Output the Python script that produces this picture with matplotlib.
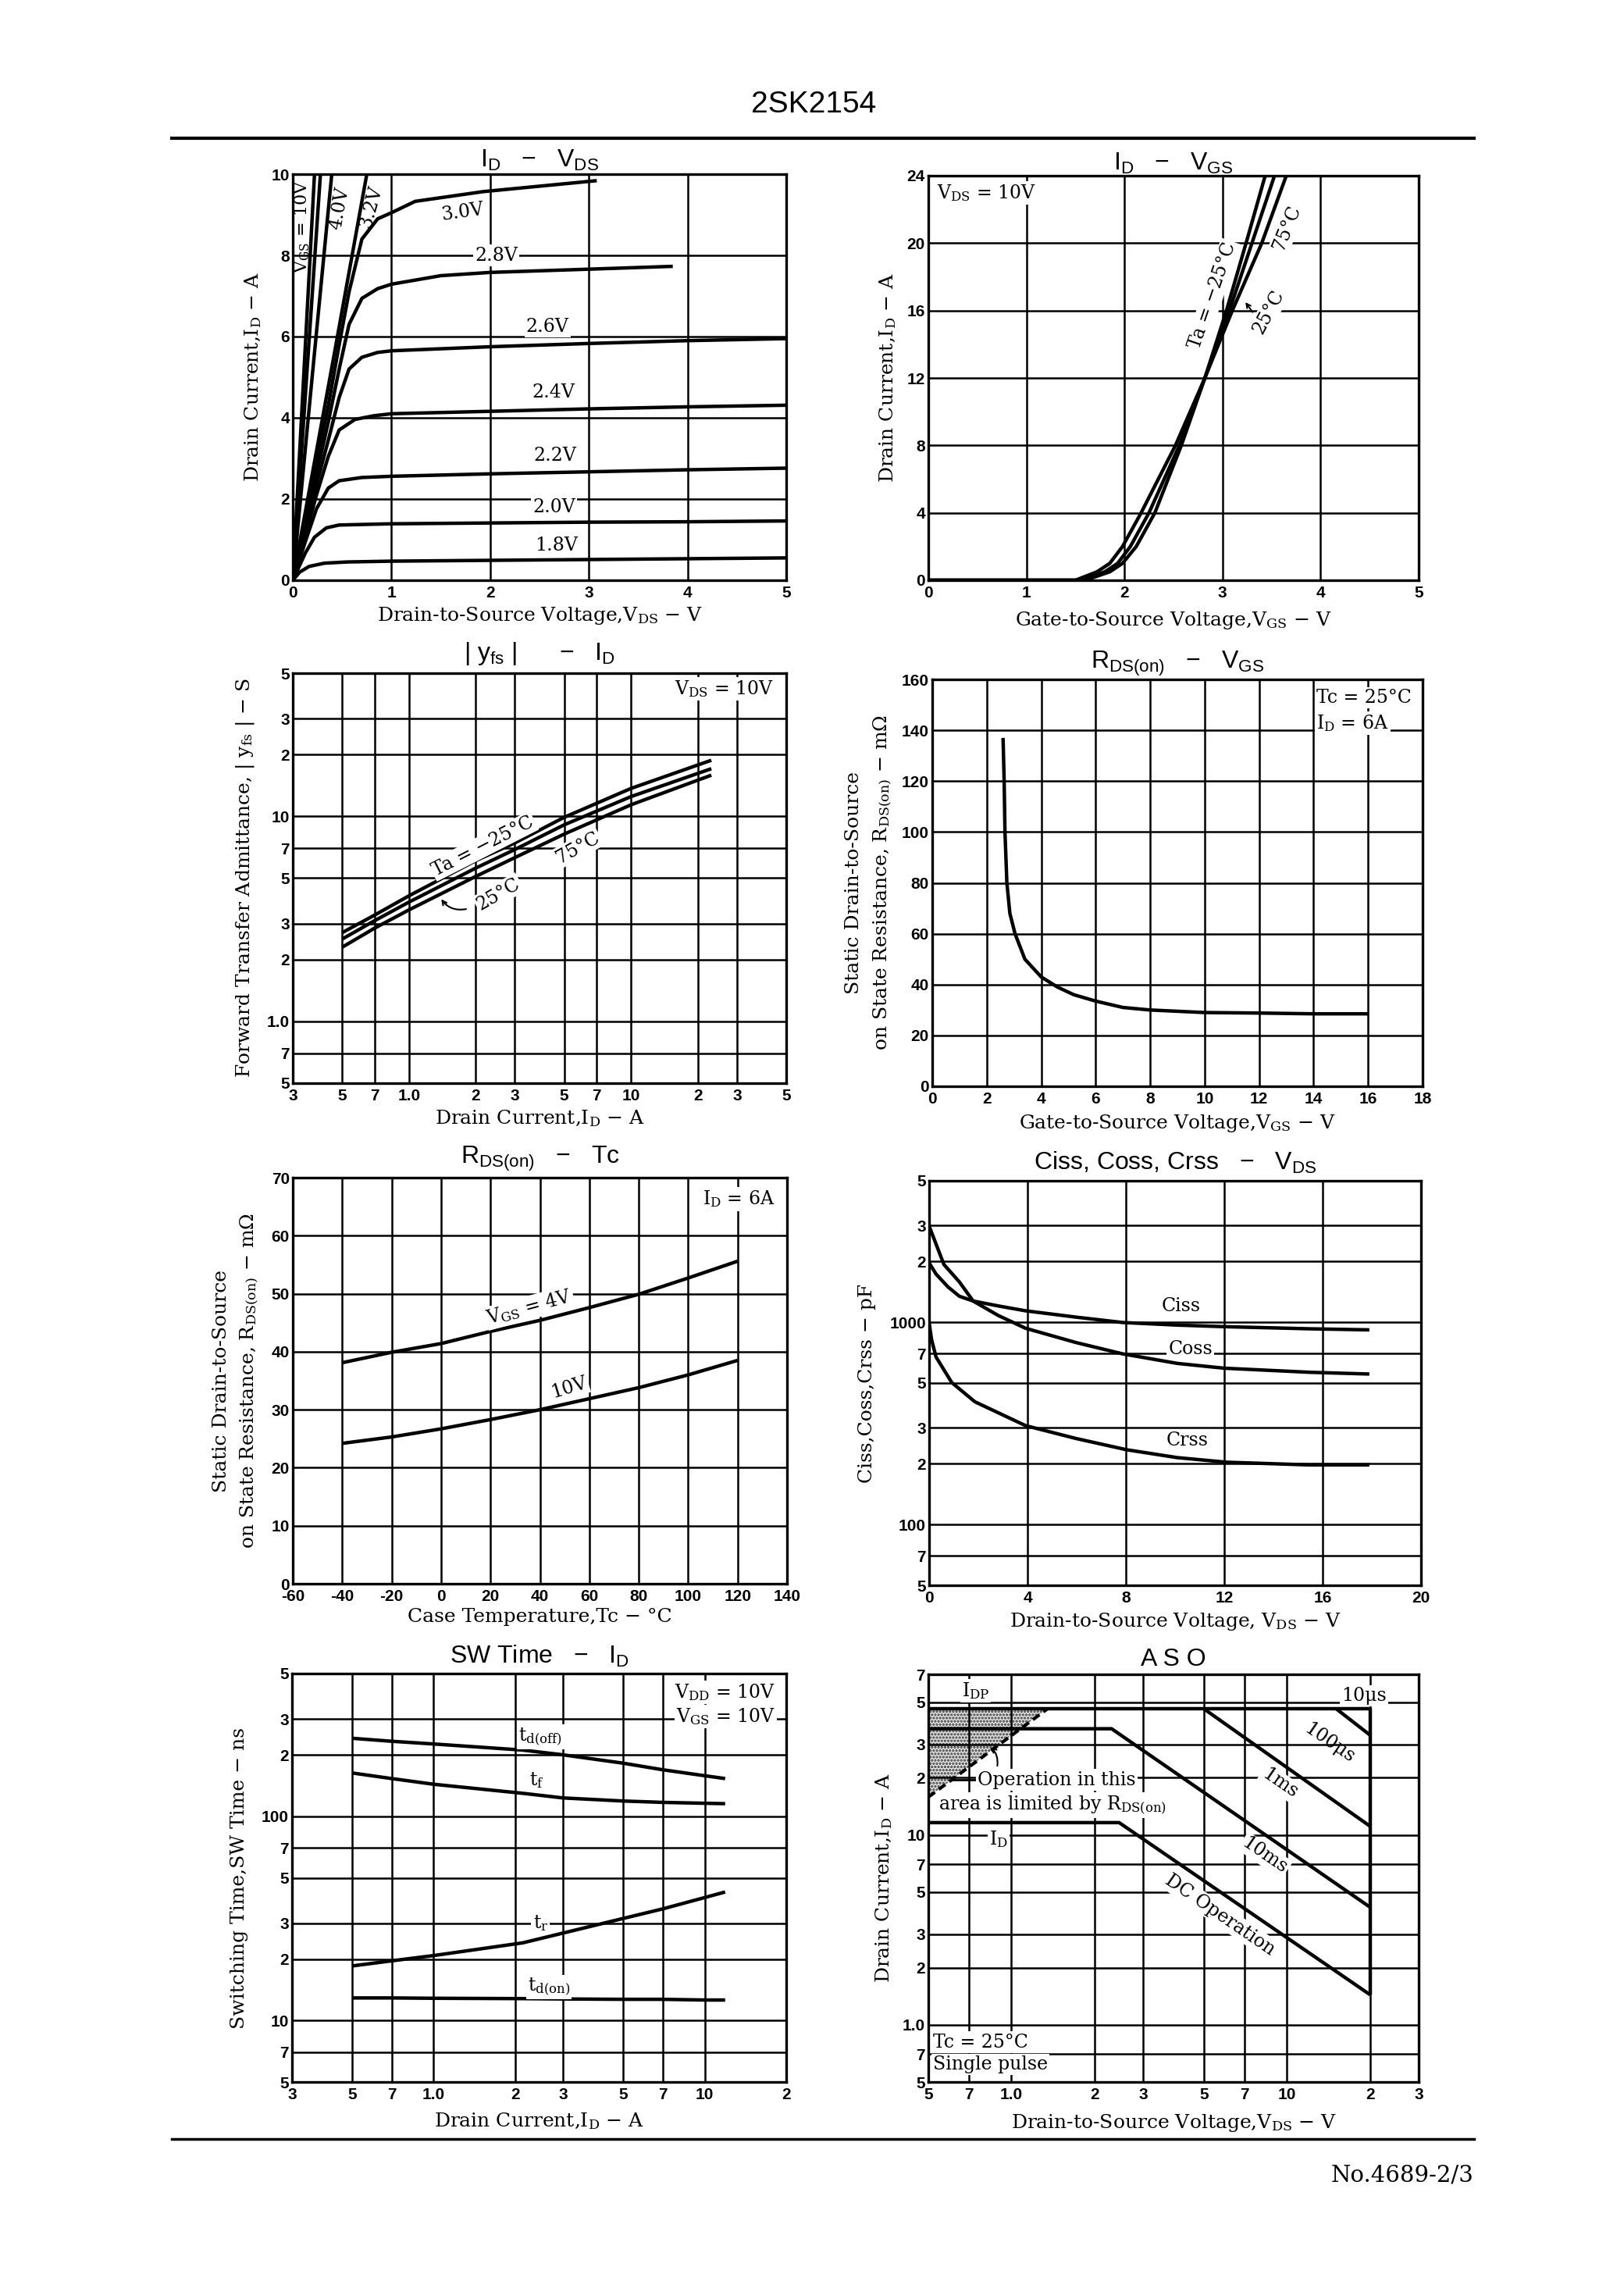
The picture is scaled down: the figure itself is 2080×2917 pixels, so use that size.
import matplotlib
matplotlib.use("Agg")
import matplotlib.pyplot as plt
from matplotlib.lines import Line2D
import numpy as np

W, H = 2080, 2917
SANS = ['Liberation Sans', 'DejaVu Sans']
SERIF = ['DejaVu Serif']

plt.rcParams['mathtext.default'] = 'regular'
plt.rcParams['font.family'] = SERIF
plt.rcParams['hatch.linewidth'] = 1.6

# ---------------- data ----------------
# I_D - V_DS (one curve per V_GS step)
vds_10v = [0, 0.22]
id_10v = [0, 10]
vds_6v = [0, 0.28]
id_6v = [0, 10]
vds_4v = [0, 0.2, 0.395]
id_4v = [0, 5.1, 10]
vds_3v2 = [0, 0.4, 0.75]
id_3v2 = [0, 5.3, 10]
vds_3v0 = [0, 0.127, 0.24, 0.36, 0.47, 0.57, 0.7, 0.86, 1, 1.24, 1.93, 3.08]
id_3v0 = [0, 1.5, 2.9, 4.3, 5.8, 7.1, 8.4, 8.9, 9.05, 9.33, 9.57, 9.84]
vds_2v8 = [0, 0.127, 0.24, 0.36, 0.47, 0.57, 0.7, 0.86, 1, 1.5, 2, 3, 3.85]
id_2v8 = [0, 1.35, 2.6, 3.9, 5.2, 6.3, 6.94, 7.18, 7.29, 7.5, 7.58, 7.66, 7.73]
vds_2v6 = [0, 0.127, 0.24, 0.36, 0.47, 0.57, 0.7, 0.86, 1, 1.5, 2, 3, 4, 5]
id_2v6 = [0, 1.2, 2.35, 3.45, 4.5, 5.2, 5.49, 5.61, 5.65, 5.7, 5.75, 5.83, 5.9, 5.95]
vds_2v4 = [0, 0.127, 0.24, 0.36, 0.47, 0.63, 0.82, 1, 2, 3, 4, 5]
id_2v4 = [0, 1.1, 2.1, 3.05, 3.7, 3.96, 4.05, 4.1, 4.16, 4.22, 4.27, 4.31]
vds_2v2 = [0, 0.127, 0.24, 0.36, 0.47, 0.7, 1, 2, 3, 4, 5]
id_2v2 = [0, 0.95, 1.76, 2.27, 2.45, 2.53, 2.56, 2.62, 2.67, 2.72, 2.76]
vds_2v0 = [0, 0.127, 0.22, 0.34, 0.47, 1, 2, 3, 4, 5]
id_2v0 = [0, 0.67, 1.06, 1.29, 1.36, 1.39, 1.41, 1.43, 1.44, 1.46]
vds_1v8 = [0, 0.07, 0.165, 0.32, 0.55, 1, 2, 3, 4, 5]
id_1v8 = [0, 0.2, 0.34, 0.42, 0.45, 0.47, 0.49, 0.51, 0.53, 0.55]

# I_D - V_GS (V_GS read at fixed I_D levels)
id_levels = [0, 0, 0.5, 1, 2, 4, 8, 12, 16, 20, 24]
vgs_m25 = [0, 1.6, 1.85, 1.98, 2.12, 2.31, 2.58, 2.82, 3.04, 3.24, 3.435]
vgs_25 = [0, 1.55, 1.8, 1.93, 2.06, 2.25, 2.56, 2.82, 3.07, 3.30, 3.53]
vgs_75 = [0, 1.5, 1.72, 1.85, 1.98, 2.17, 2.52, 2.82, 3.10, 3.40, 3.65]

# |yfs| - I_D
id_yfs = [0.5, 0.7, 1, 2, 3, 5, 10, 23]
yfs_m25 = [2.71, 3.3, 4.1, 6.09, 7.43, 9.9, 13.7, 18.8]
yfs_25 = [2.52, 3.1, 3.82, 5.6, 6.9, 9.1, 12.5, 17.1]
yfs_75 = [2.3, 2.85, 3.5, 5.1, 6.3, 8.2, 11.4, 15.9]

# RDS(on) - VGS
vgs_r = [2.6, 2.64, 2.67, 2.74, 2.85, 3.04, 3.4, 4.0, 4.6, 5.2, 6.0, 7.0, 8.0, 10, 12, 14, 16]
r_vgs = [137, 120, 100, 80, 68, 60, 50, 43, 39, 36, 33.5, 31, 30, 29, 28.8, 28.5, 28.5]

# RDS(on) - Tc
tc = [-40, -20, 0, 20, 40, 60, 80, 100, 120]
r_4v = [38.1, 39.9, 41.4, 43.5, 45.4, 47.6, 49.9, 52.7, 55.6]
r_10v = [24.2, 25.3, 26.7, 28.3, 30.0, 31.9, 33.8, 36.0, 38.5]

# Ciss, Coss, Crss - VDS
ciss_v = [0, 0.28, 0.76, 1.23, 1.79, 2.81, 3.92, 5.97, 7.87, 10.1, 12, 15.5, 17.9]
ciss = [1965, 1730, 1496, 1343, 1272, 1203, 1138, 1059, 996, 967, 950, 927, 916]
coss_v = [0, 0.3, 0.6, 1.23, 1.79, 2.81, 3.92, 5.97, 7.87, 10.1, 12, 15.5, 17.9]
coss = [2987, 2400, 1929, 1581, 1272, 1079, 933, 793, 697, 625, 592, 565, 554]
crss_v = [0, 0.1, 0.28, 0.92, 1.86, 3.92, 5.97, 8.03, 10.08, 12.1, 15.4, 17.9]
crss = [993, 820, 673, 503, 404, 308, 266, 234, 214, 203, 197, 197]

# SW time - I_D
id_sw = [0.5, 0.7, 1.0, 2.13, 3.0, 5.0, 7.0, 10.0, 11.9]
td_off = [241, 233, 226, 211, 200, 182, 169, 158, 153]
t_f = [163, 153, 143.5, 129.6, 123, 118.8, 117, 115.8, 115.3]
t_r = [18.5, 19.6, 20.8, 24.0, 26.8, 31.6, 35.2, 40.0, 42.6]
td_on = [12.9, 12.9, 12.85, 12.8, 12.75, 12.7, 12.7, 12.6, 12.6]

# ASO boundaries
aso_10us_v = [0.5, 20, 20]
aso_10us_i = [46, 46, 1.44]
aso_100us_v = [15.1, 20]
aso_100us_i = [46, 33.5]
aso_1ms_v = [5.0, 20]
aso_1ms_i = [46, 11.1]
aso_10ms_v = [0.5, 2.31, 20]
aso_10ms_i = [36.2, 36.2, 4.16]
aso_dc_v = [0.5, 2.46, 20]
aso_dc_i = [11.6, 11.6, 1.44]
rds_lim_v = [0.5, 1.35]
rds_lim_i = [15.8, 46]

# ---------------- figure ----------------
fig = plt.figure(figsize=(W / 100, H / 100), dpi=100)
fig.patch.set_facecolor('white')

CURVE = dict(color='k', lw=3.2, solid_capstyle='butt')
WHITE = dict(facecolor='white', edgecolor='none', pad=1.5)
ANN = 17


def box(x0, y0, x1, y1):
    return fig.add_axes([x0 / W, 1 - y1 / H, (x1 - x0) / W, (y1 - y0) / H])


def frame(ax, xt, xl, yt, yl, logx=False, logy=False):
    if logx:
        ax.set_xscale('log')
    if logy:
        ax.set_yscale('log')
    ax.set_xlim(xt[0], xt[-1])
    ax.set_ylim(yt[0], yt[-1])
    ax.set_xticks(xt)
    ax.set_xticklabels(xl, fontfamily=SANS, fontsize=15, fontweight='bold')
    ax.set_yticks(yt)
    ax.set_yticklabels(yl, fontfamily=SANS, fontsize=15, fontweight='bold')
    ax.minorticks_off()
    ax.tick_params(length=0)
    ax.tick_params(axis='x', pad=5)
    ax.tick_params(axis='y', pad=3)
    ax.grid(True, color='k', lw=1.8)
    ax.set_axisbelow(True)
    for s in ax.spines.values():
        s.set_linewidth(2.4)


def labels(ax, title, title_y, xlabel, xlabel_y, ylabels):
    b = ax.get_position()
    cx = (b.x0 + b.x1) / 2
    cy = (b.y0 + b.y1) / 2
    fig.text(cx, 1 - title_y / H, title, ha='center', va='center',
             family=SANS, size=23)
    fig.text(cx, 1 - xlabel_y / H, xlabel, ha='center', va='center', size=18)
    for txt, xpx in ylabels:
        fig.text(xpx / W, cy, txt, ha='center', va='center', rotation=90, size=18)


def angle(ax, p0, p1):
    a = ax.transData.transform(p0)
    b = ax.transData.transform(p1)
    return np.degrees(np.arctan2(b[1] - a[1], b[0] - a[0]))


# page header / footer
fig.text(1042 / W, 1 - 134 / H, '2SK2154', ha='center', va='center',
         family=SANS, size=28)
fig.add_artist(Line2D([220 / W, 1888 / W], [1 - 177 / H, 1 - 177 / H], color='k', lw=3))
fig.add_artist(Line2D([220 / W, 1888 / W], [1 - 2739 / H, 1 - 2739 / H], color='k', lw=2.5))
fig.text(1888 / W, 1 - 2785 / H, 'No.4689-2/3', ha='right', va='center', size=21)

# ---- 1: I_D - V_DS ----
ax1 = box(375, 223, 1007, 743)
frame(ax1, [0, 1, 2, 3, 4, 5], ['0', '1', '2', '3', '4', '5'],
      [0, 2, 4, 6, 8, 10], ['0', '2', '4', '6', '8', '10'])
for v, i in [(vds_10v, id_10v), (vds_6v, id_6v), (vds_4v, id_4v), (vds_3v2, id_3v2),
             (vds_3v0, id_3v0), (vds_2v8, id_2v8), (vds_2v6, id_2v6), (vds_2v4, id_2v4),
             (vds_2v2, id_2v2), (vds_2v0, id_2v0), (vds_1v8, id_1v8)]:
    ax1.plot(v, i, **CURVE)
ax1.text(0.095, 8.7, 'V$_{GS}$ = 10V', rotation=90, ha='center', va='center', size=16)
ax1.text(0.47, 9.15, '4.0V', rotation=angle(ax1, (0, 0), (0.395, 10)) - 5,
         ha='center', va='center', size=17)
ax1.text(0.79, 9.2, '3.2V', rotation=angle(ax1, (0, 0), (0.75, 10)) - 5,
         ha='center', va='center', size=17)
ax1.text(1.72, 9.06, '3.0V', rotation=8, ha='center', va='center', size=ANN)
for txt, x, y in [('2.8V', 2.06, 8.0), ('2.6V', 2.58, 6.24), ('2.4V', 2.64, 4.63),
                  ('2.2V', 2.66, 3.06), ('2.0V', 2.65, 1.8), ('1.8V', 2.67, 0.86)]:
    ax1.text(x, y, txt, ha='center', va='center', size=ANN, bbox=WHITE)
labels(ax1, 'I$_{D}$   −   V$_{DS}$', 205, 'Drain-to-Source Voltage,V$_{DS}$ − V', 788,
       [('Drain Current,I$_{D}$ − A', 324)])

# ---- 2: I_D - V_GS ----
ax2 = box(1189, 225, 1817, 743)
frame(ax2, [0, 1, 2, 3, 4, 5], ['0', '1', '2', '3', '4', '5'],
      [0, 4, 8, 12, 16, 20, 24], ['0', '4', '8', '12', '16', '20', '24'])
for v in (vgs_m25, vgs_25, vgs_75):
    ax2.plot(v, id_levels, **CURVE)
ax2.text(0.087, 23.0, 'V$_{DS}$ = 10V', ha='left', va='center', size=ANN, bbox=WHITE)
ax2.text(2.9, 16.9, 'Ta = −25°C', rotation=71, ha='center', va='center', size=ANN, bbox=WHITE)
ax2.text(3.66, 20.9, '75°C', rotation=68, ha='center', va='center', size=ANN, bbox=WHITE)
ax2.text(3.47, 15.9, '25°C', rotation=62, ha='center', va='center', size=ANN, bbox=WHITE)
ax2.annotate('', xy=(3.22, 16.6), xytext=(3.32, 15.8),
             arrowprops=dict(arrowstyle='->', lw=1.4, color='k'))
labels(ax2, 'I$_{D}$   −   V$_{GS}$', 209, 'Gate-to-Source Voltage,V$_{GS}$ − V', 795,
       [('Drain Current,I$_{D}$ − A', 1137)])

# ---- 3: |yfs| - I_D ----
ax3 = box(375, 862, 1007, 1387)
frame(ax3, [0.3, 0.5, 0.7, 1, 2, 3, 5, 7, 10, 20, 30, 50],
      ['3', '5', '7', '1.0', '2', '3', '5', '7', '10', '2', '3', '5'],
      [0.5, 0.7, 1, 2, 3, 5, 7, 10, 20, 30, 50],
      ['5', '7', '1.0', '2', '3', '5', '7', '10', '2', '3', '5'], logx=True, logy=True)
for y in (yfs_m25, yfs_25, yfs_75):
    ax3.plot(id_yfs, y, **CURVE)
ax3.text(44, 41.8, 'V$_{DS}$ = 10V', ha='right', va='center', size=ANN, bbox=WHITE)
ax3.text(2.16, 7.17, 'Ta = −25°C', rotation=27, ha='center', va='center', size=ANN, bbox=WHITE)
ax3.text(5.76, 7.04, '75°C', rotation=29, ha='center', va='center', size=ANN, bbox=WHITE)
ax3.text(2.53, 4.18, '25°C', rotation=30, ha='center', va='center', size=ANN, bbox=WHITE)
ax3.annotate('', xy=(1.38, 4.03), xytext=(1.85, 3.55),
             arrowprops=dict(arrowstyle='->', lw=1.5, color='k',
                             connectionstyle='arc3,rad=-0.35'))
labels(ax3, '| y$_{fs}$ |      −   I$_{D}$', 837, 'Drain Current,I$_{D}$ − A', 1432,
       [('Forward Transfer Admittance, | y$_{fs}$ | − S', 314)])

# ---- 4: RDS(on) - VGS ----
ax4 = box(1194, 870, 1822, 1391)
frame(ax4, list(range(0, 19, 2)), [str(v) for v in range(0, 19, 2)],
      list(range(0, 161, 20)), [str(v) for v in range(0, 161, 20)])
ax4.plot(vgs_r, r_vgs, **CURVE)
ax4.text(14.1, 152.8, 'Tc = 25°C', ha='left', va='center', size=ANN, bbox=WHITE)
ax4.text(14.1, 142.8, 'I$_{D}$ = 6A', ha='left', va='center', size=ANN, bbox=WHITE)
labels(ax4, 'R$_{DS(on)}$   −   V$_{GS}$', 850, 'Gate-to-Source Voltage,V$_{GS}$ − V', 1438,
       [('Static Drain-to-Source', 1093), ('on State Resistance, R$_{DS(on)}$ − mΩ', 1131)])

# ---- 5: RDS(on) - Tc ----
ax5 = box(375, 1508, 1008, 2028)
frame(ax5, list(range(-60, 141, 20)), [str(v) for v in range(-60, 141, 20)],
      list(range(0, 71, 10)), [str(v) for v in range(0, 71, 10)])
ax5.plot(tc, r_4v, **CURVE)
ax5.plot(tc, r_10v, **CURVE)
ax5.text(35.8, 47.6, 'V$_{GS}$ = 4V', rotation=15, ha='center', va='center', size=ANN, bbox=WHITE)
ax5.text(51.7, 33.8, '10V', rotation=17, ha='center', va='center', size=ANN, bbox=WHITE)
ax5.text(135, 66.3, 'I$_{D}$ = 6A', ha='right', va='center', size=ANN, bbox=WHITE)
labels(ax5, 'R$_{DS(on)}$   −   Tc', 1484, 'Case Temperature,Tc − °C', 2070,
       [('Static Drain-to-Source', 283), ('on State Resistance, R$_{DS(on)}$ − mΩ', 320)])

# ---- 6: Ciss, Coss, Crss - VDS ----
ax6 = box(1190, 1512, 1820, 2030)
frame(ax6, [0, 4, 8, 12, 16, 20], ['0', '4', '8', '12', '16', '20'],
      [50, 70, 100, 200, 300, 500, 700, 1000, 2000, 3000, 5000],
      ['5', '7', '100', '2', '3', '5', '7', '1000', '2', '3', '5'], logy=True)
ax6.plot(ciss_v, ciss, **CURVE)
ax6.plot(coss_v, coss, **CURVE)
ax6.plot(crss_v, crss, **CURVE)
ax6.text(10.24, 1203, 'Ciss', ha='center', va='center', size=ANN, bbox=WHITE)
ax6.text(10.63, 736, 'Coss', ha='center', va='center', size=ANN, bbox=WHITE)
ax6.text(10.5, 261, 'Crss', ha='center', va='center', size=ANN, bbox=WHITE)
labels(ax6, 'Ciss, Coss, Crss   −   V$_{DS}$', 1489, 'Drain-to-Source Voltage, V$_{DS}$ − V', 2076,
       [('Ciss,Coss,Crss − pF', 1110)])

# ---- 7: SW Time - I_D ----
ax7 = box(374, 2143, 1007, 2666)
frame(ax7, [0.3, 0.5, 0.7, 1, 2, 3, 5, 7, 10, 20],
      ['3', '5', '7', '1.0', '2', '3', '5', '7', '10', '2'],
      [5, 7, 10, 20, 30, 50, 70, 100, 200, 300, 500],
      ['5', '7', '10', '2', '3', '5', '7', '100', '2', '3', '5'], logx=True, logy=True)
for t in (td_off, t_f, t_r, td_on):
    ax7.plot(id_sw, t, **CURVE)
ax7.text(2.48, 245, 't$_{d(off)}$', ha='center', va='center', size=ANN, bbox=WHITE)
ax7.text(2.4, 150, 't$_{f}$', ha='center', va='center', size=ANN, bbox=WHITE)
ax7.text(2.48, 29.9, 't$_{r}$', ha='center', va='center', size=ANN, bbox=WHITE)
ax7.text(2.66, 14.6, 't$_{d(on)}$', ha='center', va='center', size=ANN, bbox=WHITE)
ax7.text(18.2, 405, 'V$_{DD}$ = 10V', ha='right', va='center', size=ANN, bbox=WHITE)
ax7.text(18.2, 309, 'V$_{GS}$ = 10V', ha='right', va='center', size=ANN, bbox=WHITE)
labels(ax7, 'SW Time   −   I$_{D}$', 2121, 'Drain Current,I$_{D}$ − A', 2716,
       [('Switching Time,SW Time − ns', 307)])

# ---- 8: ASO ----
ax8 = box(1189, 2144, 1817, 2666)
frame(ax8, [0.5, 0.7, 1, 2, 3, 5, 7, 10, 20, 30],
      ['5', '7', '1.0', '2', '3', '5', '7', '10', '2', '3'],
      [0.5, 0.7, 1, 2, 3, 5, 7, 10, 20, 30, 50, 70],
      ['5', '7', '1.0', '2', '3', '5', '7', '10', '2', '3', '5', '7'], logx=True, logy=True)
ax8.fill([rds_lim_v[0], rds_lim_v[1], rds_lim_v[0]],
         [rds_lim_i[1], rds_lim_i[1], rds_lim_i[0]],
         facecolor='#e4e4e4', edgecolor='#333333', hatch='....', lw=0, zorder=0.3)
ax8.plot(rds_lim_v, rds_lim_i, color='k', lw=3, ls=(0, (2.5, 1.5)))
for v, i in [(aso_10us_v, aso_10us_i), (aso_100us_v, aso_100us_i), (aso_1ms_v, aso_1ms_i),
             (aso_10ms_v, aso_10ms_i), (aso_dc_v, aso_dc_i)]:
    ax8.plot(v, i, **CURVE)
diag = angle(ax8, (2.46, 11.6), (20, 1.44))
ax8.text(0.742, 57.5, 'I$_{DP}$', ha='center', va='center', size=ANN, bbox=WHITE)
ax8.text(18.97, 54, '10μs', ha='center', va='center', size=ANN, bbox=WHITE)
ax8.text(14.2, 30.5, '100μs', rotation=diag, ha='center', va='center', size=ANN)
ax8.text(9.4, 18.7, '1ms', rotation=diag, ha='center', va='center', size=ANN, bbox=WHITE)
ax8.text(8.3, 7.8, '10ms', rotation=diag, ha='center', va='center', size=ANN, bbox=WHITE)
ax8.text(5.7, 3.8, 'DC Operation', rotation=diag, ha='center', va='center', size=ANN, bbox=WHITE)
ax8.text(0.9, 9.46, 'I$_{D}$', ha='center', va='center', size=ANN, bbox=WHITE)
ax8.plot([0.607, 0.75], [19.5, 19.5], color='k', lw=2)
ax8.text(0.755, 19.5, 'Operation in this', ha='left', va='center', size=ANN, bbox=WHITE)
ax8.text(0.544, 14.3, 'area is limited by R$_{DS(on)}$', ha='left', va='center', size=ANN, bbox=WHITE)
ax8.annotate('', xy=(0.83, 29.5), xytext=(0.887, 22.5),
             arrowprops=dict(arrowstyle='->', lw=1.5, color='k',
                             connectionstyle='arc3,rad=0.3'))
ax8.text(0.52, 0.81, 'Tc = 25°C', ha='left', va='center', size=ANN, bbox=WHITE)
ax8.text(0.52, 0.62, 'Single pulse', ha='left', va='center', size=ANN, bbox=WHITE)
labels(ax8, 'A S O', 2125, 'Drain-to-Source Voltage,V$_{DS}$ − V', 2718,
       [('Drain Current,I$_{D}$ − A', 1132)])

fig.savefig('out.png', dpi=100, facecolor='white')
